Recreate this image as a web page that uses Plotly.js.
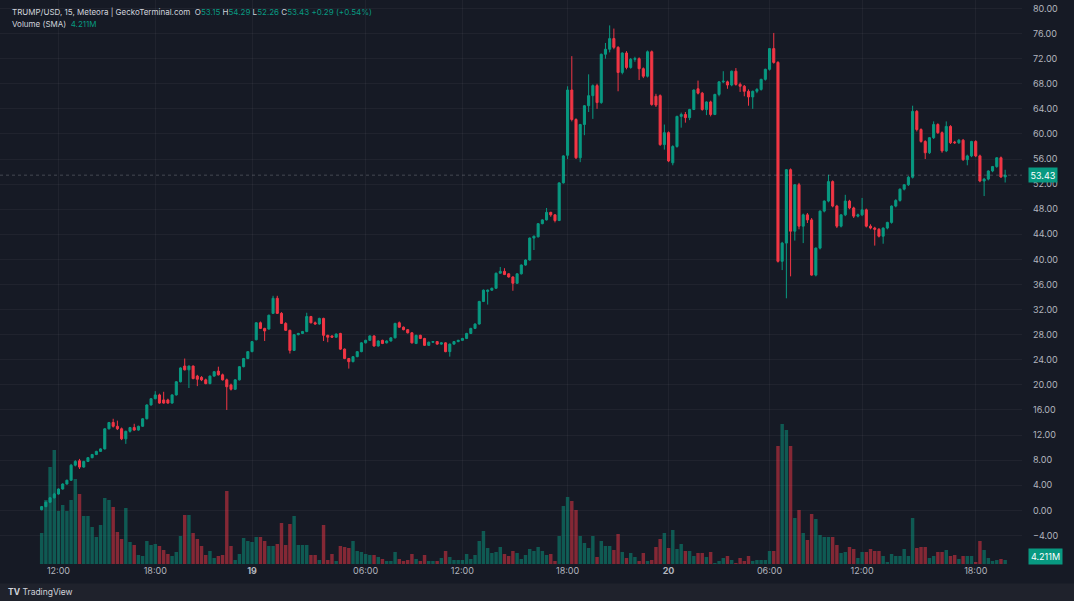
<!DOCTYPE html>
<html><head><meta charset="utf-8">
<script src="https://cdn.plot.ly/plotly-3.0.1.min.js"></script>
<style>html,body{margin:0;padding:0;background:#161a25;}#chart{width:1074px;height:601px;}</style>
</head><body><div id="chart"></div>
<script>
// ---- Data (15-minute candles, TRUMP/USD) ----
const openP = [0.1,0.6,1.3,2.0,2.6,3.4,4.2,4.8,7.2,7.9, 6.9,7.8,8.4,8.9,9.4,9.8,13.0,14.0,13.4,13.0, 11.4,12.6,13.2,12.8,13.4,14.6,16.8,17.8,18.4,17.6, 17.6,17.1,18.4,20.5,23.0,22.4,23.0,21.4,21.2,20.8, 20.2,21.4,22.2,21.6,20.8,20.0,19.3,20.8,22.9,24.2, 25.3,27.2,29.9,29.0,28.9,31.4,33.8,31.4,29.8,28.7, 25.5,28.0,28.2,28.5,30.9,29.9,29.7,30.6,27.9,27.8, 27.6,28.2,25.7,24.2,23.7,24.5,25.3,26.7,27.1,27.8, 26.2,27.1,26.7,27.0,27.5,29.9,29.2,28.8,28.3,26.6, 27.9,27.4,26.3,26.8,26.9,26.5,26.7,25.3,26.5,26.9, 27.1,27.4,28.2,29.0,29.7,33.3,34.9,35.1,35.4,37.8, 38.1,37.7,37.2,36.2,37.7,39.1,39.9,43.4,43.6,45.7, 46.3,47.5,47.1,46.2,52.2,56.6,67.0,62.3,56.2,61.5, 64.5,66.1,67.7,65.0,72.7,73.5,75.2,73.8,69.8,72.9, 70.6,71.9,72.0,70.4,69.2,73.1,66.0,66.1,58.3,60.2, 55.4,58.0,62.8,63.1,62.6,63.9,67.2,66.5,63.9,65.1, 63.1,66.3,68.3,68.3,67.8,70.0,67.9,67.6,66.8,65.9, 66.8,67.1,68.7,70.3,73.6,71.4,39.7,42.6,54.3,44.5, 51.9,45.3,47.1,46.3,37.5,41.8,47.7,49.3,52.4,48.5, 45.3,47.1,49.3,48.2,46.9,47.1,47.9,45.3,45.0,44.8, 43.7,45.0,45.9,48.5,49.4,51.2,51.9,53.1,63.6,60.7, 58.8,57.0,59.4,61.5,60.2,57.3,61.2,58.7,58.6,59.0, 55.9,56.5,58.8,56.5,52.5,52.8,54.1,54.8,56.2,53.15];
const highP = [0.7,1.4,2.1,2.8,3.5,4.3,4.9,7.4,8.0,8.2, 7.9,8.5,9.0,9.5,9.9,13.1,14.1,14.6,14.3,13.2, 12.7,13.3,13.8,13.5,14.7,16.9,17.9,19.0,18.6,18.9, 17.8,18.5,20.6,22.8,24.2,23.1,23.1,21.6,21.4,21.0, 21.5,22.2,22.9,21.8,21.0,20.2,20.9,23.0,24.3,25.4, 27.0,30.0,30.1,29.1,31.2,34.2,34.2,31.6,30.0,28.8, 28.1,28.3,28.6,31.5,31.0,30.1,30.7,30.7,28.0,27.9, 28.2,28.3,25.8,24.3,24.6,25.4,26.8,27.2,27.9,27.9, 27.1,27.2,27.1,27.6,29.9,30.1,29.3,28.9,28.4,28.0, 28.0,27.5,26.9,27.0,27.0,26.8,26.8,26.6,27.0,27.2, 27.5,28.3,29.1,29.8,33.4,35.2,35.2,35.5,37.9,38.8, 38.6,37.8,37.3,37.8,39.2,40.0,43.5,43.8,45.8,46.4, 48.2,47.6,47.2,52.3,56.6,67.6,72.4,62.5,61.6,64.6, 69.5,67.9,68.0,72.8,74.5,77.3,76.8,74.0,73.0,73.2, 72.1,72.3,72.2,70.6,73.3,73.3,66.4,66.3,61.5,60.4, 58.2,62.9,63.4,63.5,64.0,67.1,68.5,66.7,65.2,65.3, 66.4,68.4,70.0,68.5,70.1,70.5,68.2,67.8,67.1,66.9, 67.3,68.8,70.4,73.7,76.1,71.6,42.8,54.4,54.5,52.0, 52.2,47.3,47.4,46.6,41.9,47.8,49.4,53.5,52.6,48.7, 47.2,50.3,49.5,48.4,47.3,49.8,48.1,45.6,45.2,45.0, 45.1,46.0,48.6,49.6,51.3,52.0,53.3,64.5,63.8,60.9, 59.0,59.5,62.0,61.7,60.4,62.0,61.4,58.9,59.2,59.2, 56.7,58.9,59.0,56.7,53.0,54.2,54.9,56.3,56.4,54.29];
const lowP = [0.0,0.5,1.2,1.9,2.5,3.3,4.1,4.7,7.0,6.6, 6.8,7.7,8.3,8.8,9.3,9.7,12.9,13.2,12.8,11.2, 10.6,12.4,12.7,12.7,13.3,14.5,16.7,17.7,17.0,17.0, 17.0,17.0,18.3,20.4,22.3,19.5,20.9,19.8,20.6,20.1, 20.1,21.3,21.5,20.7,16.0,19.1,19.2,20.7,22.8,24.1, 25.2,27.1,28.9,27.0,28.8,31.3,31.3,29.7,28.6,25.0, 25.4,27.9,28.1,28.4,29.8,29.6,29.6,27.0,26.8,27.5, 27.5,25.6,24.1,22.6,23.6,24.4,25.2,26.6,27.0,26.1, 26.1,26.5,26.6,26.9,27.4,29.1,28.7,28.2,26.6,26.5, 27.3,26.2,26.2,26.7,26.4,26.4,25.2,24.5,26.4,26.8, 27.0,27.3,28.1,28.9,29.6,33.2,32.8,35.0,35.3,37.7, 37.5,37.1,35.0,36.1,37.6,39.0,39.8,41.5,43.5,45.6, 46.2,46.8,45.9,46.1,52.1,56.0,62.0,56.0,55.5,59.8, 63.5,62.4,64.0,64.8,72.0,73.0,73.5,66.8,69.5,70.3, 70.4,71.5,68.6,68.9,69.0,64.5,64.3,58.1,57.5,55.5, 55.0,57.8,61.0,61.8,62.2,63.8,66.3,63.7,63.0,62.8, 63.0,66.0,68.1,67.2,67.6,67.7,66.7,66.0,64.5,64.0, 66.5,66.9,68.5,70.1,71.2,39.5,38.3,33.8,37.3,43.0, 44.8,42.6,45.8,37.4,37.3,41.6,47.5,49.1,48.3,45.0, 45.1,46.9,48.0,46.6,46.7,46.9,45.1,44.8,42.2,43.5, 42.5,44.8,45.7,48.3,49.2,51.0,51.7,52.9,60.4,58.6, 56.0,56.8,59.2,60.0,57.0,57.1,58.4,58.4,58.4,55.7, 55.0,56.3,56.3,52.3,50.1,52.6,53.9,54.6,53.0,52.26];
const closeP = [0.6,1.3,2.0,2.6,3.4,4.2,4.8,7.2,7.8,6.9, 7.8,8.4,8.9,9.4,9.8,13.0,14.0,13.4,13.0,11.4, 12.6,13.2,12.8,13.4,14.6,16.8,17.8,18.4,17.1,17.1, 17.1,18.4,20.5,22.7,22.4,23.0,21.0,20.9,20.8,20.2, 21.4,22.1,21.6,20.8,19.7,19.3,20.8,22.9,24.2,25.3, 26.9,29.9,29.0,28.6,31.1,33.8,31.4,29.8,28.7,25.5, 28.0,28.2,28.5,30.9,29.9,29.7,30.6,27.9,27.6,27.6, 28.1,25.7,24.2,23.7,24.5,25.3,26.7,27.1,27.8,26.2, 27.0,26.6,27.0,27.5,29.8,29.2,28.8,28.3,26.7,27.9, 27.4,26.3,26.8,26.9,26.5,26.7,25.3,26.5,26.9,27.1, 27.4,28.2,29.0,29.7,33.3,35.1,35.1,35.4,37.8,38.1, 37.6,37.2,36.2,37.7,39.1,39.9,43.4,43.7,45.7,46.3, 47.5,47.1,46.2,52.2,56.5,67.0,62.3,56.2,61.5,64.5, 66.1,67.7,65.0,72.7,73.5,75.2,73.8,69.8,72.9,70.6, 71.9,72.0,70.4,69.2,73.1,64.7,64.6,58.3,60.2,55.7, 58.0,62.8,63.1,62.6,63.9,67.0,66.5,63.9,65.1,63.1, 66.3,68.3,68.4,67.8,70.0,67.9,67.6,66.8,65.9,66.8, 67.1,68.7,70.3,73.6,71.4,39.7,42.6,54.3,44.5,51.9, 45.3,47.1,46.3,37.5,41.8,47.7,49.3,52.4,48.5,45.3, 47.1,49.3,48.2,46.9,47.1,47.9,45.3,45.0,44.8,43.7, 45.0,45.9,48.5,49.4,51.2,51.9,53.1,63.6,60.7,58.8, 57.0,59.4,61.5,60.2,57.3,61.2,58.6,58.6,59.0,55.9, 56.5,58.8,56.5,52.5,52.8,54.1,54.8,56.2,53.14,53.43];
const volumeM = [15.5,32,48.5,57,26.5,29.5,26.5,32,42.5,35, 24,24,18.5,13.5,19.5,33,32,28.5,16,12.5, 28,11,9.5,4.5,4,11.5,9.5,10,9,7, 5,4,6,14,24.5,24.5,15.5,12.5,9,4.5, 6.5,3,4,4.5,36.5,9,2,5,13,11.5, 11,13.5,13.5,11.5,9,9,10,20.5,9.5,20, 24,9.5,9.5,9.5,4.5,4.5,2,19.5,
  2,5,1.5,9,8.5,8,11.5,6.5,6,5, 4.5,4.5,3.5,2.5,1.5,1.5,6,2.5,1.5,2, 5,2.5,1.5,4.5,1.5,1.5,1.5,3,6.5,3.5,2,
  2,2,5,2.5,4.5,11.5,16.5,8,5.5,6, 8.5,5,4,6.5,5.5,2.5,4.5,7.5,6.5,8.5, 6.5,4.5,5,1.5,14,29,33.5,31.5,27,14, 10.5,8,14,3.5,11.5,9,9,7,15,6, 3,5.5,3.5,1.5,5.5,1.5,2,8.5,12.5,15.5,8,
  17,7.5,10,6.5,6.5,4,5.5,5.5,3.5,6, 0.5,1.5,3,4,2,0.5,3,1.5,4,1.5, 2,2,2,6.5,6.5,59,70,67,59,23, 27,15.5,12,25,22.5,14.5,13.5,13.5,13.5,9.5, 5.5,6,8.5,7.5,3,6,6,7.5,6.5,6.5, 4,1,5,4,4,7.5,4,23,8,8.5, 8.5,3,4,6,6,7,4,4.5,2.5,4, 4,4,1,11.5,7,3,1.5,2,2.5,2];
const tickIndex = [4, 27, 50, 77, 100, 125, 149, 173, 195, 222];
const tickText = ["12:00","18:00","<b>19</b>","06:00","12:00","18:00","<b>20</b>","06:00","12:00","18:00"];
const priceTicks = [-4,0,4,8,12,16,20,24,28,32,36,40,44,48,52,56,60,64,68,72,76,80];
const lastClose = 53.43;
const volSMA = "4.211M";

// ---- Styling ----
const UP = '#089981', DOWN = '#f23645';
const UPV = 'rgba(8,153,129,0.5)', DOWNV = 'rgba(242,54,69,0.5)';
const BG = '#161a25';
const idx = closeP.map((_, i) => i);
const volColors = closeP.map((c, i) => c >= openP[i] ? UPV : DOWNV);

const traces = [
  {type:'bar', x: idx, y: volumeM, yaxis:'y2', marker:{color: volColors, line:{width:0}}, width:0.82, hoverinfo:'skip'},
  {type:'candlestick', x: idx, open: openP, high: highP, low: lowP, close: closeP,
   increasing:{line:{color:UP,width:1}, fillcolor:UP},
   decreasing:{line:{color:DOWN,width:1}, fillcolor:DOWN},
   whiskerwidth:0, hoverinfo:'skip'}
];

const F = 'Inter, Roboto, "DejaVu Sans", sans-serif';
const g = (t) => `<span style="color:${UP}">${t}</span>`;
const layout = {
  width:1074, height:601,
  margin:{l:0, r:52, t:0, b:37},
  paper_bgcolor: BG, plot_bgcolor: BG,
  showlegend:false,
  font:{family:F, size:9, color:'#b2b5be'},
  xaxis:{range:[-9.9, 233.0], tickmode:'array', tickvals: tickIndex, ticktext: tickText,
         showgrid:true, gridcolor:'rgba(255,255,255,0.045)', zeroline:false, showline:false,
         ticks:'', tickfont:{size:9, color:'#b2b5be'}, rangeslider:{visible:false}, fixedrange:true},
  yaxis:{range:[-8.55, 81.35], side:'right', tickmode:'array', tickvals: priceTicks, tickformat:'.2f',
         showgrid:true, gridcolor:'rgba(255,255,255,0.045)', zeroline:false, showline:false,
         ticks:'', ticklabelstandoff:10, tickfont:{size:9, color:'#b2b5be'}, fixedrange:true},
  yaxis2:{overlaying:'y', range:[0, 282], visible:false, fixedrange:true},
  bargap:0.1,
  shapes:[
    {type:'rect', xref:'paper', yref:'paper', x0:-0.01, x1:1.06, y0:-0.07, y1:-0.0345, fillcolor:'#1f222c', line:{width:0}, layer:'below'},
    {type:'line', xref:'paper', yref:'y', x0:0, x1:1, y0:lastClose, y1:lastClose, line:{color:'rgba(178,181,190,0.3)', width:1, dash:'dot'}}
  ],
  annotations:[
    {xref:'paper', yref:'paper', x:0.0098, y:1-12/564, xanchor:'left', yanchor:'middle', showarrow:false,
     font:{size:8, color:'#d1d4dc', family:F},
     text:`TRUMP/USD, 15, Meteora | GeckoTerminal.com  O${g('53.15')} H${g('54.29')} L${g('52.26')} C${g('53.43')} ${g('+0.29 (+0.54%)')}`},
    {xref:'paper', yref:'paper', x:0.0098, y:1-24/564, xanchor:'left', yanchor:'middle', showarrow:false,
     font:{size:8, color:'#d1d4dc', family:F}, text:`Volume (SMA)  ${g(volSMA)}`},
    {xref:'paper', yref:'y', x:1+6/1022, y:lastClose, xanchor:'left', yanchor:'middle', showarrow:false,
     bgcolor:UP, borderpad:1.5, font:{size:9, color:'#ffffff', family:F}, text: lastClose.toFixed(2)},
    {xref:'paper', yref:'paper', x:1+6/1022, y:(564-556)/564, xanchor:'left', yanchor:'middle', showarrow:false,
     bgcolor:UP, borderpad:2, font:{size:9, color:'#ffffff', family:F}, text: volSMA},
    {xref:'paper', yref:'paper', x:0.006, y:(564-592)/564, xanchor:'left', yanchor:'middle', showarrow:false,
     font:{size:8.5, color:'#d1d4dc', family:F}, text:'<b>TV</b> TradingView'}
  ]
};
Plotly.newPlot('chart', traces, layout, {staticPlot:true, displayModeBar:false});
</script></body></html>
